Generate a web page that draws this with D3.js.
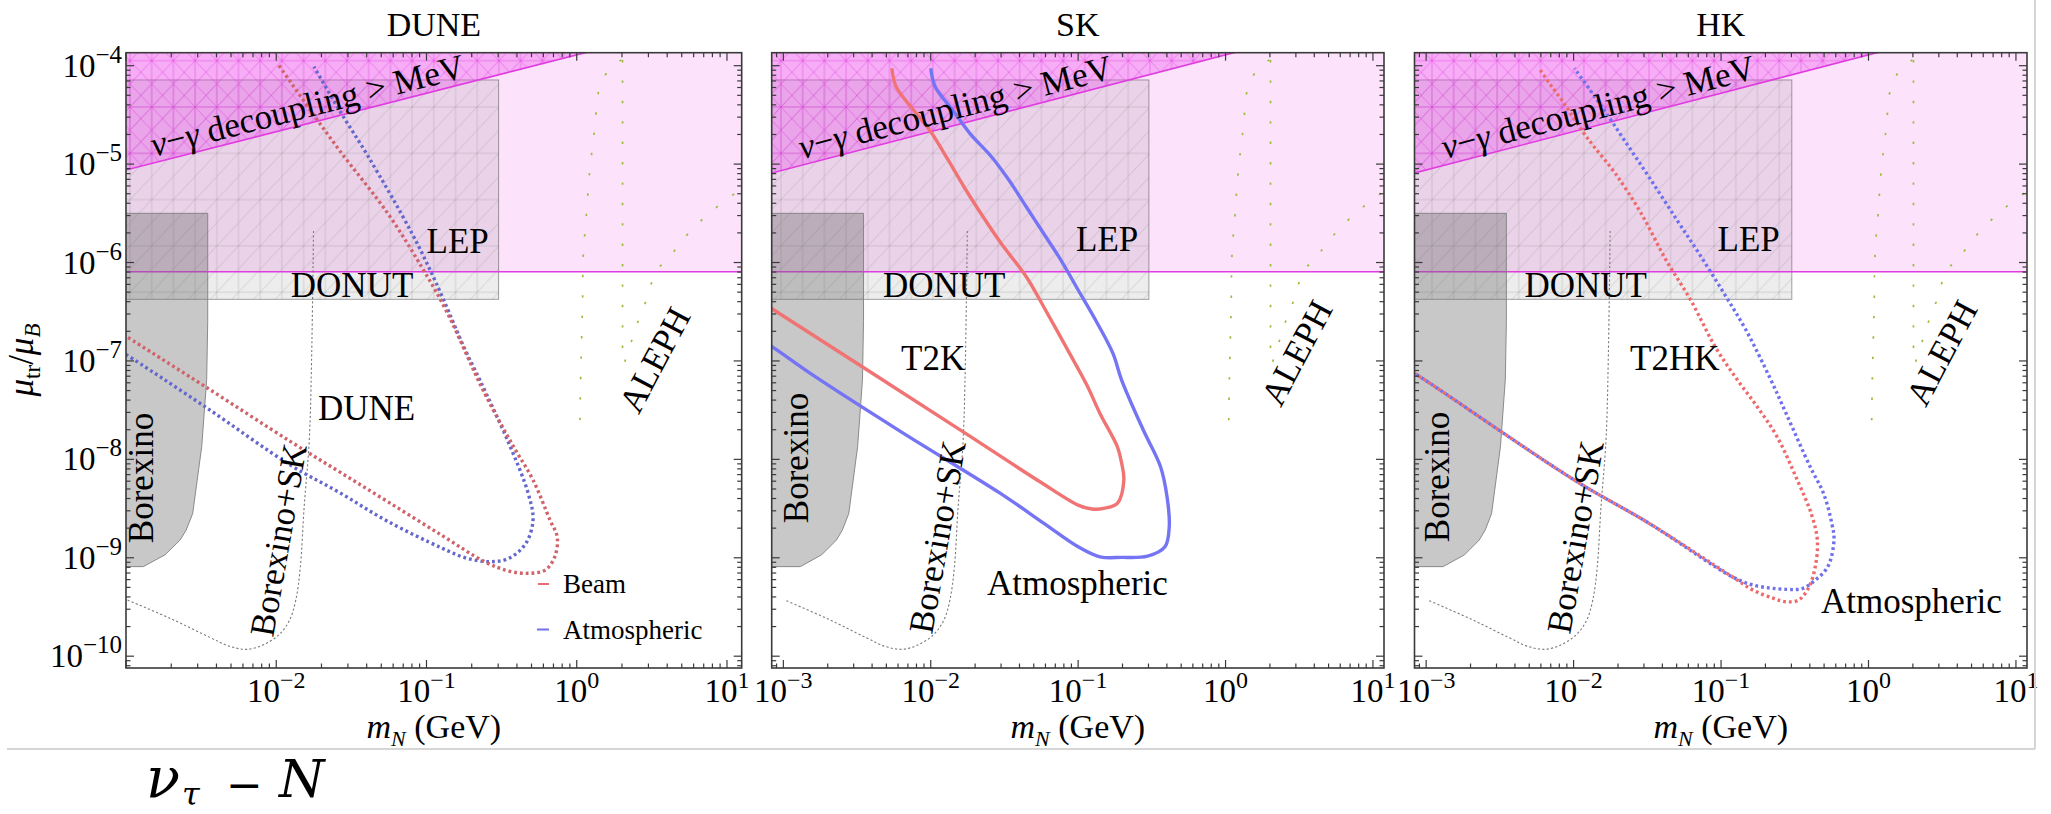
<!DOCTYPE html>
<html>
<head>
<meta charset="utf-8">
<script src="https://cdn.jsdelivr.net/npm/d3@7"></script>
<style>
  html, body { margin: 0; padding: 0; background: #fff; }
  svg text { font-family: "Liberation Serif", "Times New Roman", serif; fill: #000; }
  svg text.caption { font-family: "DejaVu Serif", serif; }
</style>
</head>
<body>
<svg id="chart" width="2051" height="814"></svg>
<script>
// ---------------------------------------------------------------
// Values are stored as [log10(m_N / GeV), log10(mu_tr / mu_B)]
// ---------------------------------------------------------------
const panelTitles = ["DUNE", "SK", "HK"];
const xTickExponents = [-3, -2, -1, 0, 1];
const yTickExponents = [-10, -9, -8, -7, -6, -5, -4];

// DUNE sensitivity contours (dotted)
const duneBeam = [[-3.05,-6.70],[-2.995,-6.754],[-2.474,-7.26],[-1.904,-7.82],[-1.576,-8.13],[-1.258,-8.43],[-0.9,-8.77],
  [-0.613,-9.04],[-0.452,-9.135],[-0.323,-9.158],[-0.21,-9.125],[-0.146,-8.99],[-0.13,-8.787],[-0.178,-8.617],
  [-0.291,-8.21],[-0.42,-7.872],[-0.613,-7.329],[-0.871,-6.483],[-1.033,-6.043],[-1.258,-5.5],[-1.581,-4.857],
  [-1.774,-4.45],[-1.984,-3.993]];
const duneAtm = [[-3.05,-6.89],[-2.995,-6.94],[-2.474,-7.465],[-1.904,-8.06],[-1.576,-8.34],[-1.258,-8.63],[-0.9,-8.90],
  [-0.742,-9.0],[-0.581,-9.04],[-0.452,-9.006],[-0.339,-8.854],[-0.291,-8.617],[-0.323,-8.346],[-0.452,-7.837],
  [-0.645,-7.194],[-0.742,-6.889],[-0.935,-6.211],[-1.097,-5.703],[-1.387,-4.925],[-1.581,-4.45],[-1.749,-4.01]];

// SK sensitivity contours (solid)
const skBeam = [[-3.15,-6.40],[-3.082,-6.465],[-1.764,-7.736],[-1.259,-8.228],[-1.0,-8.465],[-0.906,-8.505],
  [-0.818,-8.495],[-0.734,-8.447],[-0.69,-8.21],[-0.705,-8.038],[-0.734,-7.872],[-0.852,-7.533],[-0.941,-7.245],
  [-1.058,-6.923],[-1.234,-6.449],[-1.352,-6.144],[-1.523,-5.805],[-1.645,-5.535],[-1.775,-5.23],[-1.882,-4.958],
  [-2.0,-4.671],[-2.117,-4.45],[-2.235,-4.213],[-2.264,-4.026]];
const skAtm = [[-3.15,-6.79],[-3.082,-6.85],[-2.794,-7.15],[-2.209,-7.713],[-1.53,-8.343],[-1.235,-8.647],[-1.0,-8.888],
  [-0.852,-8.99],[-0.705,-8.996],[-0.529,-8.983],[-0.411,-8.888],[-0.382,-8.685],[-0.397,-8.38],[-0.441,-8.075],
  [-0.558,-7.702],[-0.705,-7.194],[-0.764,-6.923],[-0.882,-6.584],[-1.0,-6.279],[-1.117,-5.975],[-1.235,-5.703],
  [-1.352,-5.433],[-1.47,-5.162],[-1.588,-4.925],[-1.735,-4.687],[-1.852,-4.45],[-1.97,-4.213],[-2.0,-4.026]];

// HK sensitivity contours (dotted)
const hkBeam = [[-3.15,-7.06],[-3.008,-7.194],[-1.995,-8.21],[-1.488,-8.65],[-0.924,-9.193],[-0.784,-9.328],
  [-0.643,-9.413],[-0.559,-9.447],[-0.474,-9.43],[-0.403,-9.295],[-0.361,-9.091],[-0.347,-8.82],[-0.389,-8.549],
  [-0.483,-8.21],[-0.62,-7.77],[-0.755,-7.465],[-0.898,-7.174],[-1.04,-6.856],[-1.206,-6.381],[-1.373,-5.975],
  [-1.542,-5.5],[-1.718,-5.093],[-1.861,-4.823],[-1.938,-4.671],[-2.065,-4.382],[-2.164,-4.179],[-2.234,-4.026]];
const hkAtm = [[-3.15,-7.06],[-3.008,-7.194],[-1.995,-8.21],[-1.488,-8.65],[-0.924,-9.193],[-0.784,-9.277],
  [-0.559,-9.321],[-0.445,-9.311],[-0.361,-9.227],[-0.276,-9.091],[-0.234,-8.82],[-0.249,-8.65],[-0.305,-8.346],
  [-0.396,-8.075],[-0.559,-7.533],[-0.668,-7.174],[-0.831,-6.686],[-0.98,-6.313],[-1.15,-5.907],[-1.299,-5.568],
  [-1.49,-5.128],[-1.657,-4.755],[-1.793,-4.45],[-1.888,-4.247],[-1.995,-4.026]];

// Existing bounds
const borexinoRegion = [[-3.3,-5.5],[-2.456,-5.5],[-2.456,-6.6],[-2.463,-7.19],[-2.496,-7.87],[-2.556,-8.55],
  [-2.60,-8.72],[-2.64,-8.82],[-2.74,-8.97],[-2.885,-9.09],[-3.3,-9.09]];
const borexinoSK = [[-1.752,-5.68],[-1.765,-7.0],[-1.78,-7.8],[-1.815,-8.5],[-1.84,-9.1],[-1.87,-9.43],[-1.91,-9.63],
  [-1.98,-9.78],[-2.08,-9.88],[-2.19,-9.93],[-2.31,-9.9],[-2.44,-9.81],[-2.7,-9.62],[-2.99,-9.43]];
const alephOuter = [[0.298,-3.942],[0.232,-4.01],[0.154,-4.213],[0.12,-4.636],[0.087,-5.06],[0.065,-5.5],
  [0.043,-5.941],[0.039,-6.381],[0.032,-6.821],[0.025,-7.262],[0.021,-7.702]];
const alephMiddle = [[0.305,-3.942],[0.305,-7.02]];
const alephInner = [[0.32,-7.008],[0.371,-6.77],[0.415,-6.567],[0.468,-6.364],[0.531,-6.076],[0.604,-5.975],
  [0.686,-5.805],[0.786,-5.636],[0.89,-5.49],[1.007,-5.348],[1.1,-5.25]];
const lepBound = -6.093;                       // horizontal LEP limit
const donutBoxX = [-3.3, -0.52];               // grey box extent in m_N
const donutBoxY = [-6.374, -4.145];            // grey box extent in mu
const decouplingLine = [[-3.3, -5.177], [0.4, -3.734]];

// ---------------------------------------------------------------
const svg = d3.select("#chart");
const plotTop = 52.7, plotBottom = 668;
const yLogDomain = [-10.12, -3.868];

const panelLayout = [
  { left: 126,    right: 741.7, xLog: [-3.0,   1.098] },
  { left: 771.7,  right: 1384,  xLog: [-3.079, 1.075] },
  { left: 1414.5, right: 2027,  xLog: [-3.079, 1.075] }
];

const panelCurves = [
  { beam: duneBeam, atm: duneAtm, dotted: true,  red: "#d0626a", blue: "#6468cc" },
  { beam: skBeam,   atm: skAtm,   dotted: false, red: "#f07474", blue: "#7474f4" },
  { beam: hkBeam,   atm: hkAtm,   dotted: true,  red: "#ee6a6a", blue: "#6e70ee" }
];

const panelText = [
  { lep: [426.6, 253], donut: [290.8, 296.7], exp: ["DUNE", 318, 420], aleph: [655, 360],
    borexino: [153, 478], borexinoSK: [290, 542], atmos: null, decoupleStart: 154 },
  { lep: [1076, 251], donut: [883, 296.7], exp: ["T2K", 901, 370], aleph: [1297, 353],
    borexino: [808, 458], borexinoSK: [949, 539], atmos: [987, 595], decoupleStart: 802 },
  { lep: [1717.6, 251], donut: [1524.5, 296.7], exp: ["T2HK", 1630, 370], aleph: [1942, 353],
    borexino: [1449, 477], borexinoSK: [1587, 539], atmos: [1821, 613], decoupleStart: 1445 }
];

// ---- hatching patterns ----
const defs = svg.append("defs");
function makeHatch(id, color, opacity, both) {
  const w = 21.7, h = 46.3;
  const p = defs.append("pattern").attr("id", id)
    .attr("patternUnits", "userSpaceOnUse").attr("width", w).attr("height", h)
    .attr("patternTransform", "translate(130,60.7)");
  const segs = [[0,0,0,h],[w,0,w,h],[0,0,w,0],[0,h,w,h],[0,h/2,w,0],[0,h,w,h/2]];
  if (both) segs.push([0,0,w,h/2],[0,h/2,w,h]);
  p.selectAll("line").data(segs).join("line")
    .attr("x1", d => d[0]).attr("y1", d => d[1]).attr("x2", d => d[2]).attr("y2", d => d[3])
    .attr("stroke", color).attr("stroke-opacity", opacity).attr("stroke-width", 0.8);
}
makeHatch("hatchGrey", "#707070", 0.3, false);
makeHatch("hatchMagenta", "#e030e0", 0.55, true);

function mathText(sel, parts) {
  parts.forEach(pt => {
    const t = sel.append("tspan").text(pt.t);
    if (pt.i) t.attr("font-style", "italic");
    if (pt.s) t.attr("font-size", pt.s);
    if (pt.dy) t.attr("dy", pt.dy);
  });
}

panelLayout.forEach((P, pi) => {
  const x = d3.scaleLog().domain([10 ** P.xLog[0], 10 ** P.xLog[1]]).range([P.left, P.right]);
  const y = d3.scaleLog().domain([10 ** yLogDomain[0], 10 ** yLogDomain[1]]).range([plotBottom, plotTop]);
  const X = v => x(10 ** v), Y = v => y(10 ** v);
  const C = panelCurves[pi], T = panelText[pi];

  defs.append("clipPath").attr("id", "clip" + pi).append("rect")
    .attr("x", P.left).attr("y", plotTop).attr("width", P.right - P.left).attr("height", plotBottom - plotTop);

  const g = svg.append("g").attr("clip-path", `url(#clip${pi})`);
  const poly = d3.line().x(d => X(d[0])).y(d => Y(d[1]));
  const smooth = d3.line().x(d => X(d[0])).y(d => Y(d[1])).curve(d3.curveCatmullRom.alpha(0.5));

  // LEP excluded band (pink)
  g.append("rect").attr("x", P.left - 5).attr("y", plotTop - 5)
    .attr("width", P.right - P.left + 10).attr("height", Y(lepBound) - plotTop + 5)
    .attr("fill", "#fce2fb");

  // grey box with hatching
  const bx0 = X(donutBoxX[0]), bx1 = X(donutBoxX[1]), by0 = Y(donutBoxY[1]), by1 = Y(donutBoxY[0]);
  g.append("rect").attr("x", bx0).attr("y", by0).attr("width", bx1 - bx0).attr("height", by1 - by0)
    .attr("fill", "rgba(110,110,110,0.12)");
  g.append("rect").attr("x", bx0).attr("y", by0).attr("width", bx1 - bx0).attr("height", by1 - by0)
    .attr("fill", "url(#hatchGrey)").attr("stroke", "rgba(90,90,90,0.55)").attr("stroke-width", 1);

  // nu-gamma decoupling region
  const dec = [decouplingLine[0], decouplingLine[1], [decouplingLine[1][0], -3.0], [decouplingLine[0][0], -3.0]];
  g.append("path").attr("d", poly(dec) + "Z").attr("fill", "rgba(236,80,236,0.36)");
  g.append("path").attr("d", poly(dec) + "Z").attr("fill", "url(#hatchMagenta)");
  g.append("path").attr("d", poly(decouplingLine)).attr("fill", "none")
    .attr("stroke", "#e03ce0").attr("stroke-width", 1.6);

  // LEP line
  g.append("line").attr("x1", P.left).attr("x2", P.right).attr("y1", Y(lepBound)).attr("y2", Y(lepBound))
    .attr("stroke", "#e03ce0").attr("stroke-width", 1.6);

  // Borexino
  g.append("path").attr("d", poly(borexinoRegion) + "Z")
    .attr("fill", "rgba(110,110,110,0.38)").attr("stroke", "#808080").attr("stroke-width", 0.9);

  // Borexino + SK
  g.append("path").attr("d", smooth(borexinoSK)).attr("fill", "none")
    .attr("stroke", "#7a7a7a").attr("stroke-width", 1.1).attr("stroke-dasharray", "2.2 2.2");

  // ALEPH
  [alephOuter, alephMiddle, alephInner].forEach(a => {
    g.append("path").attr("d", smooth(a)).attr("fill", "none")
      .attr("stroke", "#9cbc3c").attr("stroke-width", 1.7).attr("stroke-dasharray", "2.4 18");
  });

  // sensitivity contours
  const draw = (data, col, offset) => {
    const p = g.append("path").attr("d", smooth(data)).attr("fill", "none").attr("stroke", col);
    if (C.dotted) p.attr("stroke-width", 3.4).attr("stroke-dasharray", "2.8 3.0").attr("stroke-dashoffset", offset);
    else p.attr("stroke-width", 3.4).attr("stroke-linejoin", "round");
  };
  draw(C.atm, C.blue, 2.9);
  draw(C.beam, C.red, 0);

  // ---- labels inside the plot ----
  const L = svg.append("g").attr("font-size", 35);
  L.append("text").attr("x", T.lep[0]).attr("y", T.lep[1]).text("LEP");
  L.append("text").attr("x", T.donut[0]).attr("y", T.donut[1]).text("DONUT");
  L.append("text").attr("x", T.exp[1]).attr("y", T.exp[2]).text(T.exp[0]);
  L.append("text").attr("text-anchor", "middle").attr("dominant-baseline", "central")
    .attr("transform", `translate(${T.aleph[0]},${T.aleph[1]}) rotate(-62)`).text("ALEPH");
  L.append("text").attr("text-anchor", "middle")
    .attr("transform", `translate(${T.borexino[0]},${T.borexino[1]}) rotate(-90)`).text("Borexino");
  L.append("text").attr("text-anchor", "middle")
    .attr("transform", `translate(${T.borexinoSK[0]},${T.borexinoSK[1]}) rotate(-80)`).text("Borexino+SK");
  if (T.atmos) L.append("text").attr("x", T.atmos[0]).attr("y", T.atmos[1]).text("Atmospheric");

  // decoupling label along its boundary
  const ax0 = X(-3), ay0 = Y(-5.06), ax1 = X(0), ay1 = Y(-5.06 + 0.39 * 3);
  const ang = Math.atan2(ay1 - ay0, ax1 - ax0) * 180 / Math.PI;
  const sx = T.decoupleStart;
  const lineY = ay0 + (sx - ax0) * (ay1 - ay0) / (ax1 - ax0);
  const dtext = L.append("text").attr("transform", `translate(${sx},${lineY - 6}) rotate(${ang})`);
  mathText(dtext, [{t: "ν", i: true}, {t: "−"}, {t: "γ", i: true}, {t: " decoupling > MeV"}]);

  // ---- frame and ticks ----
  const F = svg.append("g");
  F.append("rect").attr("x", P.left).attr("y", plotTop).attr("width", P.right - P.left)
    .attr("height", plotBottom - plotTop).attr("fill", "none").attr("stroke", "#3a3a3a").attr("stroke-width", 1.6);
  const tick = (x1, y1, x2, y2) => F.append("line").attr("x1", x1).attr("y1", y1).attr("x2", x2).attr("y2", y2)
    .attr("stroke", "#3a3a3a").attr("stroke-width", 1.2);
  for (let k = Math.floor(P.xLog[0]); k <= Math.ceil(P.xLog[1]); k++) {
    for (let j = 1; j <= 9; j++) {
      const lv = k + Math.log10(j);
      if (lv < P.xLog[0] - 1e-6 || lv > P.xLog[1]) continue;
      const px = X(lv), len = j === 1 ? 8 : 4.5;
      tick(px, plotBottom, px, plotBottom - len);
      tick(px, plotTop, px, plotTop + len);
    }
  }
  for (let k = Math.floor(yLogDomain[0]); k <= Math.ceil(yLogDomain[1]); k++) {
    for (let j = 1; j <= 9; j++) {
      const lv = k + Math.log10(j);
      if (lv < yLogDomain[0] || lv > yLogDomain[1]) continue;
      const py = Y(lv), len = j === 1 ? 8 : 4.5;
      tick(P.left, py, P.left + len, py);
      tick(P.right, py, P.right - len, py);
    }
  }

  // x tick labels
  xTickExponents.forEach(e => {
    if (e < P.xLog[0] - 0.1 || e > P.xLog[1]) return;
    if (pi === 0 && e === -3) return;
    const t = svg.append("text").attr("x", X(e)).attr("y", 702).attr("text-anchor", "middle").attr("font-size", 33);
    t.append("tspan").text("10");
    t.append("tspan").attr("font-size", 24).attr("dy", -14).text(e < 0 ? "−" + (-e) : String(e));
  });
  // y tick labels on the first panel
  if (pi === 0) {
    yTickExponents.forEach(e => {
      const t = svg.append("text").attr("x", 122).attr("y", Y(e) + 11).attr("text-anchor", "end").attr("font-size", 33);
      t.append("tspan").text("10");
      t.append("tspan").attr("font-size", 25).attr("dy", -14).text("−" + (-e));
    });
  }

  // panel title and x-axis title
  const cx = (P.left + P.right) / 2;
  svg.append("text").attr("x", cx).attr("y", 36).attr("text-anchor", "middle").attr("font-size", 34).text(panelTitles[pi]);
  const xt = svg.append("text").attr("x", cx).attr("y", 738).attr("text-anchor", "middle").attr("font-size", 34);
  mathText(xt, [{t: "m", i: true}, {t: "N", i: true, s: 22, dy: 8}, {t: " (GeV)", s: 34, dy: -8}]);
});

// legend (first panel)
const legend = svg.append("g").attr("font-size", 27);
legend.append("line").attr("x1", 538).attr("x2", 549).attr("y1", 584).attr("y2", 584)
  .attr("stroke", "#ee6a6a").attr("stroke-width", 2);
legend.append("text").attr("x", 563).attr("y", 593).text("Beam");
legend.append("line").attr("x1", 537).attr("x2", 549).attr("y1", 629.5).attr("y2", 629.5)
  .attr("stroke", "#7070ee").attr("stroke-width", 2);
legend.append("text").attr("x", 563).attr("y", 638.5).text("Atmospheric");

// y-axis title
const yt = svg.append("text").attr("text-anchor", "middle").attr("font-size", 35)
  .attr("transform", "translate(33,360) rotate(-90)");
mathText(yt, [{t: "μ", i: true}, {t: "tr", s: 23, dy: 7}, {t: "/", s: 35, dy: -7}, {t: "μ", i: true}, {t: "B", i: true, s: 23, dy: 7}]);

// enclosing cell rules
svg.append("line").attr("x1", 7).attr("x2", 2035).attr("y1", 749).attr("y2", 749).attr("stroke", "#d6d6d6").attr("stroke-width", 2);
svg.append("line").attr("x1", 2035).attr("x2", 2035).attr("y1", 0).attr("y2", 749).attr("stroke", "#d6d6d6").attr("stroke-width", 2);

// caption
const cap = svg.append("g").attr("font-style", "italic");
cap.append("text").attr("class", "caption").attr("x", 146).attr("y", 797).attr("font-size", 56).text("ν");
cap.append("text").attr("class", "caption").attr("x", 182).attr("y", 805).attr("font-size", 32).text("τ");
cap.append("text").attr("class", "caption").attr("x", 226).attr("y", 800).attr("font-size", 44).attr("font-style", "normal").text("−");
cap.append("text").attr("class", "caption").attr("x", 279).attr("y", 797).attr("font-size", 52).text("N");
</script>
</body>
</html>
